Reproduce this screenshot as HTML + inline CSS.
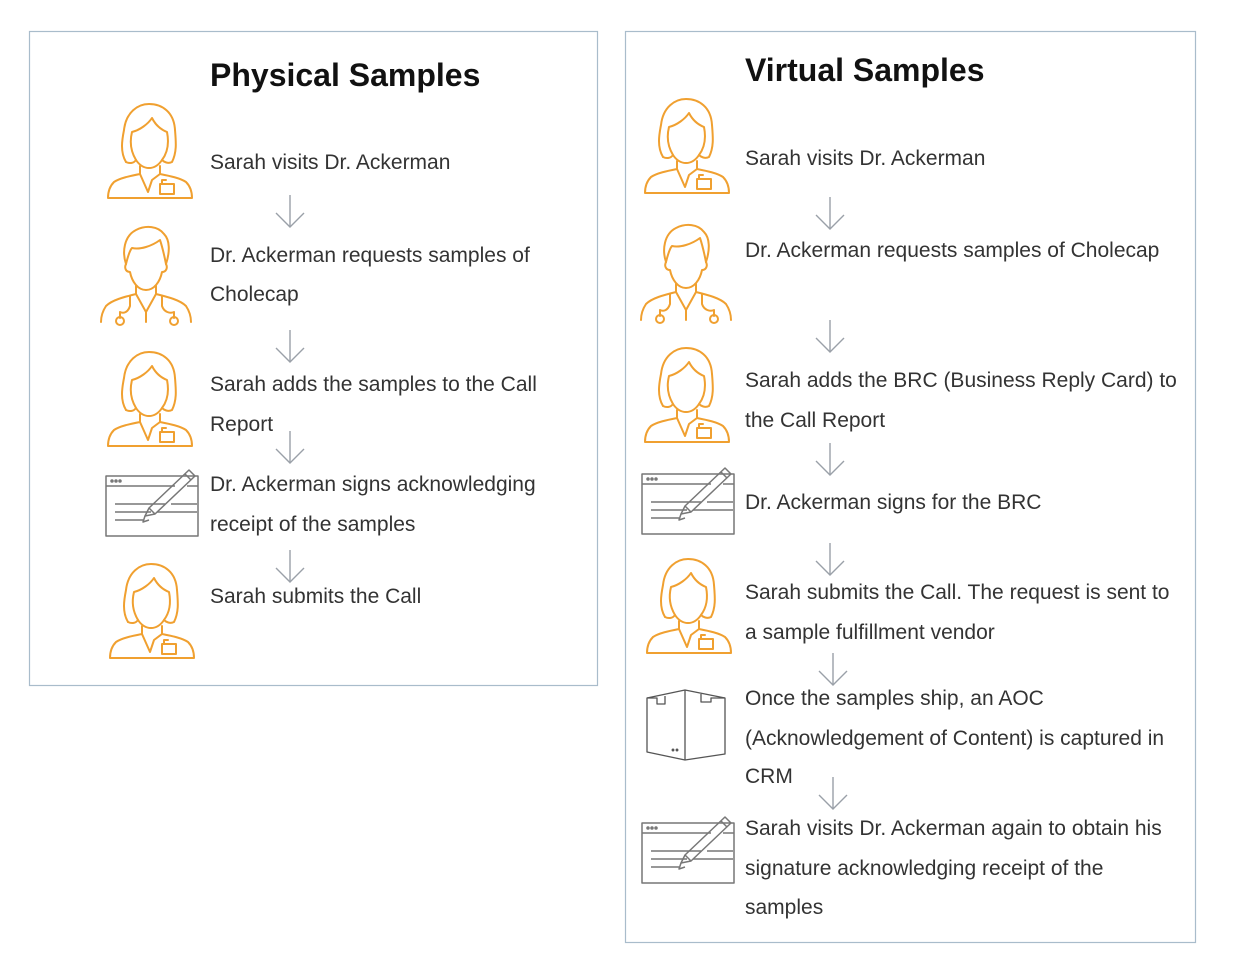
<!DOCTYPE html>
<html><head><meta charset="utf-8"><style>
html,body{margin:0;padding:0;background:#fff;}
svg{display:block;}
text{font-family:"Liberation Sans",sans-serif;fill:#333;font-size:21px;}
.t{font-weight:bold;font-size:32px;fill:#111;}
</style></head><body>
<svg width="1234" height="972" viewBox="0 0 1234 972" xmlns="http://www.w3.org/2000/svg">
<defs>
<g id="fem" fill="none" stroke="#f0a030" stroke-width="2" stroke-linejoin="round" stroke-linecap="round">
  <path d="M22 62 C16 52 18 40 20 30 C22 12 34 4 45 4 C58 4 70 12 71 30 C72 42 73 52 68 62 C64 64 60 62 58 60"/>
  <path d="M22 62 C26 64 30 63 32 60"/>
  <path d="M32 60 C26 50 26 40 28 32 C36 30 44 24 48 18 C52 26 58 30 63 32 C65 42 64 52 58 60 C54 66 50 68 45 68 C40 68 36 66 32 60"/>
  <path d="M36 66 L36 74 C26 76 16 78 10 82 C6 86 4 92 4 98 L88 98 C88 92 86 86 82 82 C76 78 66 76 56 74 L56 66"/>
  <path d="M36 74 L44 92 L48 80 L56 74"/>
  <rect x="56" y="84" width="14" height="10"/>
  <path d="M58 84 L58 80 L62 80"/>
</g>
<g id="doc" fill="none" stroke="#f0a030" stroke-width="2" stroke-linejoin="round" stroke-linecap="round">
  <path d="M26 42 C22 30 24 14 36 8 C46 3 58 4 64 12 C70 18 70 30 66 42"/>
  <path d="M26 42 C28 34 30 28 32 26 C40 28 52 24 60 18 C62 24 64 32 66 42"/>
  <path d="M26 42 C24 46 26 50 30 50 C32 60 38 68 46 68 C54 68 60 60 62 50 C66 50 68 46 66 42"/>
  <path d="M36 64 L36 72 C24 75 12 78 6 84 C2 90 1 96 1 100"/>
  <path d="M56 64 L56 72 C68 75 80 78 86 84 C90 90 91 96 91 100"/>
  <path d="M36 72 L46 90 L56 72"/>
  <path d="M30 74 L30 84 C28 90 24 92 20 90 L20 96"/>
  <circle cx="20" cy="99" r="4"/>
  <path d="M62 74 L62 84 C64 90 70 92 74 90 L74 96"/>
  <circle cx="74" cy="99" r="4"/>
  <path d="M46 90 L46 100"/>
</g>
<g id="sign" fill="none" stroke="#777" stroke-width="1.5" stroke-linejoin="round">
  <rect x="1" y="8" width="92" height="60"/>
  <line x1="1" y1="18" x2="70" y2="18"/>
  <line x1="82" y1="18" x2="93" y2="18"/>
  <circle cx="7" cy="13" r="1" fill="#777"/><circle cx="11" cy="13" r="1" fill="#777"/><circle cx="15" cy="13" r="1" fill="#777"/>
  <line x1="10" y1="36" x2="60" y2="36"/><line x1="66" y1="36" x2="92" y2="36"/>
  <line x1="10" y1="44" x2="46" y2="44"/><line x1="52" y1="44" x2="92" y2="44"/>
  <line x1="10" y1="52" x2="38" y2="52"/>
  <path d="M40 48 L44 40 L84 2 L90 8 L50 46 Z"/>
  <line x1="44" y1="40" x2="50" y2="46"/>
  <line x1="80" y1="6" x2="86" y2="12"/>
  <path d="M40 48 L38 54 L44 52"/>
</g>
<g id="box" fill="none" stroke="#555" stroke-width="1.3" stroke-linejoin="round">
  <path d="M2 10 L40 2 L80 10 L80 66 L40 72 L2 64 Z"/>
  <line x1="40" y1="2" x2="40" y2="72"/>
  <path d="M2 10 L12 10 L12 16 L20 16 L20 8"/>
  <path d="M56 6 L56 14 L66 14 L66 10 L80 10"/>
  <circle cx="28" cy="62" r="0.8" fill="#555"/><circle cx="32" cy="62" r="0.8" fill="#555"/>
</g>
<g id="arr" fill="none" stroke="#9aa0a8" stroke-width="1.4">
  <line x1="0" y1="0" x2="0" y2="32"/>
  <path d="M-14 18 L0 32 L14 18"/>
</g>
</defs>

<rect x="29.5" y="31.5" width="568" height="654" fill="none" stroke="#a9bccb" stroke-width="1.2"/>
<rect x="625.5" y="31.5" width="570" height="911" fill="none" stroke="#a9bccb" stroke-width="1.2"/>

<text class="t" x="210" y="86">Physical Samples</text>
<use href="#fem" x="104" y="100"/>
<text x="210" y="169">Sarah visits Dr. Ackerman</text>
<use href="#arr" x="290" y="195"/>
<use href="#doc" x="100" y="222"/>
<text x="210" y="262">Dr. Ackerman requests samples of</text>
<text x="210" y="301">Cholecap</text>
<use href="#arr" x="290" y="330"/>
<use href="#fem" x="104" y="348"/>
<text x="210" y="391">Sarah adds the samples to the Call</text>
<text x="210" y="431">Report</text>
<use href="#arr" x="290" y="431"/>
<use href="#sign" x="105" y="468"/>
<text x="210" y="491">Dr. Ackerman signs acknowledging</text>
<text x="210" y="531">receipt of the samples</text>
<use href="#arr" x="290" y="550"/>
<use href="#fem" x="106" y="560"/>
<text x="210" y="603">Sarah submits the Call</text>

<text class="t" x="745" y="81">Virtual Samples</text>
<use href="#fem" x="641" y="95"/>
<text x="745" y="165">Sarah visits Dr. Ackerman</text>
<use href="#arr" x="830" y="197"/>
<use href="#doc" x="640" y="220"/>
<text x="745" y="257">Dr. Ackerman requests samples of Cholecap</text>
<use href="#arr" x="830" y="320"/>
<use href="#fem" x="641" y="344"/>
<text x="745" y="387">Sarah adds the BRC (Business Reply Card) to</text>
<text x="745" y="427">the Call Report</text>
<use href="#arr" x="830" y="443"/>
<use href="#sign" x="641" y="466"/>
<text x="745" y="509">Dr. Ackerman signs for the BRC</text>
<use href="#arr" x="830" y="543"/>
<use href="#fem" x="643" y="555"/>
<text x="745" y="599">Sarah submits the Call. The request is sent to</text>
<text x="745" y="639">a sample fulfillment vendor</text>
<use href="#arr" x="833" y="653"/>
<use href="#box" x="645" y="688"/>
<text x="745" y="705">Once the samples ship, an AOC</text>
<text x="745" y="745">(Acknowledgement of Content) is captured in</text>
<text x="745" y="783">CRM</text>
<use href="#arr" x="833" y="777"/>
<use href="#sign" x="641" y="815"/>
<text x="745" y="835">Sarah visits Dr. Ackerman again to obtain his</text>
<text x="745" y="875">signature acknowledging receipt of the</text>
<text x="745" y="914">samples</text>
</svg>
</body></html>
